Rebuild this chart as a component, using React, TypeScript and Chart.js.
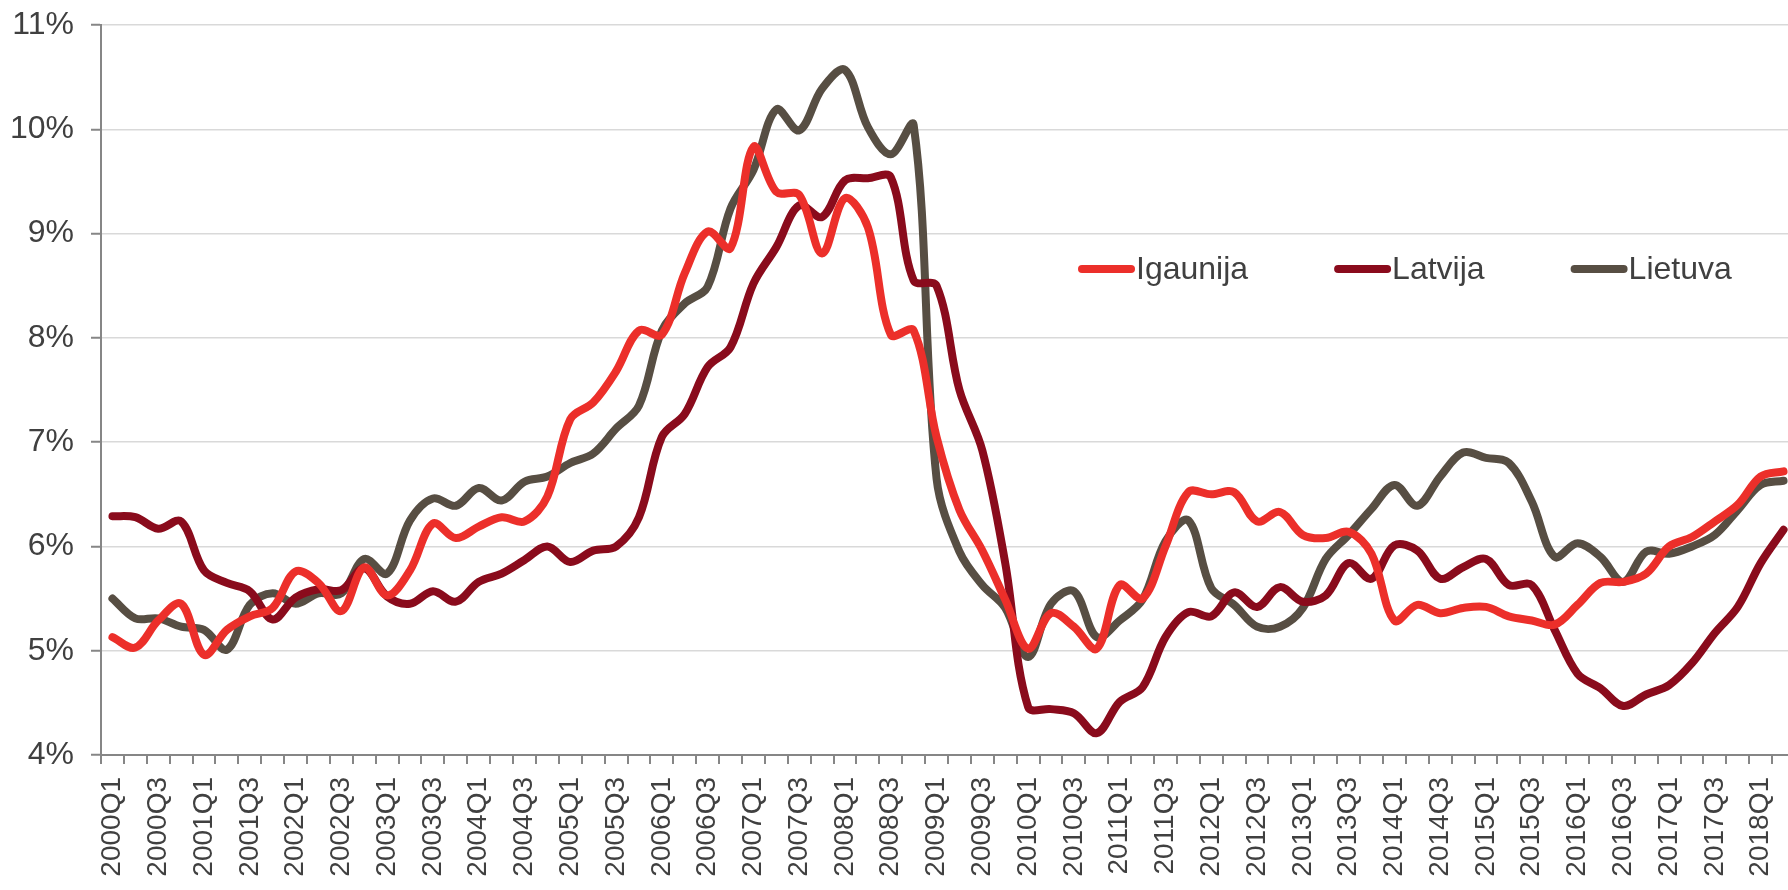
import React, { useEffect, useRef } from "react";
import { Chart, registerables } from "chart.js";

Chart.register(...registerables);

const quarters: string[] = [
  "2000Q1","2000Q2","2000Q3","2000Q4","2001Q1","2001Q2","2001Q3","2001Q4",
  "2002Q1","2002Q2","2002Q3","2002Q4","2003Q1","2003Q2","2003Q3","2003Q4",
  "2004Q1","2004Q2","2004Q3","2004Q4","2005Q1","2005Q2","2005Q3","2005Q4",
  "2006Q1","2006Q2","2006Q3","2006Q4","2007Q1","2007Q2","2007Q3","2007Q4",
  "2008Q1","2008Q2","2008Q3","2008Q4","2009Q1","2009Q2","2009Q3","2009Q4",
  "2010Q1","2010Q2","2010Q3","2010Q4","2011Q1","2011Q2","2011Q3","2011Q4",
  "2012Q1","2012Q2","2012Q3","2012Q4","2013Q1","2013Q2","2013Q3","2013Q4",
  "2014Q1","2014Q2","2014Q3","2014Q4","2015Q1","2015Q2","2015Q3","2015Q4",
  "2016Q1","2016Q2","2016Q3","2016Q4","2017Q1","2017Q2","2017Q3","2017Q4",
  "2018Q1","2018Q2",
];

const igaunija: number[] = [
  5.13, 5.03, 5.29, 5.45, 4.96, 5.2, 5.33, 5.41, 5.76, 5.65,
  5.38, 5.8, 5.53, 5.77, 6.22, 6.08, 6.19, 6.28, 6.24, 6.48,
  7.22, 7.38, 7.68, 8.07, 8.03, 8.62, 9.02, 8.86, 9.83, 9.4,
  9.37, 8.81, 9.34, 9.06, 8.03, 8.07, 7.05, 6.35, 5.96, 5.49,
  5.02, 5.36, 5.23, 5.02, 5.63, 5.5, 6.0, 6.52, 6.5, 6.52,
  6.24, 6.33, 6.11, 6.08, 6.14, 5.93, 5.29, 5.44, 5.36, 5.41,
  5.42, 5.33, 5.29, 5.25, 5.44, 5.65, 5.66, 5.74, 6.0, 6.09,
  6.24, 6.4, 6.67, 6.72,
];

const latvija: number[] = [
  6.29, 6.28, 6.17, 6.24, 5.77, 5.65, 5.57, 5.3, 5.51, 5.59,
  5.58, 5.79, 5.52, 5.45, 5.57, 5.47, 5.66, 5.74, 5.87, 6.0,
  5.85, 5.96, 6.0, 6.28, 7.05, 7.27, 7.72, 7.91, 8.52, 8.87,
  9.27, 9.16, 9.51, 9.53, 9.54, 8.55, 8.5, 7.5, 6.92, 5.84,
  4.46, 4.44, 4.4, 4.21, 4.51, 4.65, 5.13, 5.37, 5.33, 5.56,
  5.42, 5.61, 5.47, 5.53, 5.84, 5.69, 6.01, 5.96, 5.69, 5.8,
  5.88, 5.63, 5.63, 5.2, 4.78, 4.64, 4.47, 4.58, 4.67, 4.88,
  5.17, 5.42, 5.84, 6.16,
];

const lietuva: number[] = [
  5.5, 5.31, 5.31, 5.23, 5.2, 5.01, 5.44, 5.55, 5.45, 5.55,
  5.55, 5.88, 5.74, 6.25, 6.46, 6.39, 6.56, 6.44, 6.62, 6.67,
  6.8, 6.89, 7.13, 7.35, 8.07, 8.33, 8.49, 9.24, 9.61, 10.19,
  9.99, 10.39, 10.57, 10.02, 9.76, 10.04, 6.65, 5.95, 5.63, 5.41,
  4.94, 5.45, 5.57, 5.13, 5.29, 5.49, 6.05, 6.25, 5.6, 5.44,
  5.23, 5.23, 5.41, 5.88, 6.11, 6.36, 6.59, 6.39, 6.67, 6.9,
  6.85, 6.8, 6.43, 5.9, 6.03, 5.9, 5.66, 5.95, 5.93, 6.0,
  6.11, 6.35, 6.59, 6.63,
];

const seriesNames: string[] = ["Igaunija", "Latvija", "Lietuva"];
const seriesColors: string[] = ["#ec2f2a", "#8a0b1c", "#574e43"];

const yMin = 4;
const yMax = 11;
const FONT = "'Liberation Sans', Arial, Helvetica, sans-serif";
const TEXT = "#404040";
const AXIS = "#868686";

const inlineLegend = {
  id: "inlineLegend",
  afterDraw(chart: any) {
    const ctx = chart.ctx as CanvasRenderingContext2D;
    ctx.save();
    ctx.font = `32px ${FONT}`;
    ctx.textBaseline = "alphabetic";
    ctx.textAlign = "left";
    let x = 1078;
    const yLine = 269;
    const yText = 279;
    const lineLen = 57;
    chart.data.datasets.forEach((ds: any) => {
      ctx.strokeStyle = ds.borderColor;
      ctx.lineWidth = 8;
      ctx.lineCap = "round";
      ctx.beginPath();
      ctx.moveTo(x + 4, yLine);
      ctx.lineTo(x + lineLen - 4, yLine);
      ctx.stroke();
      ctx.fillStyle = TEXT;
      const tx = x + lineLen + 1;
      ctx.fillText(ds.label, tx, yText);
      x = tx + ctx.measureText(ds.label).width + 86;
    });
    ctx.restore();
  },
};

export default function App() {
  const ref = useRef<HTMLCanvasElement | null>(null);

  useEffect(() => {
    const canvas = ref.current;
    if (!canvas) return;
    Chart.defaults.font.family = FONT;
    const seriesData = [igaunija, latvija, lietuva];
    const chart = new Chart(canvas, {
      type: "line",
      data: {
        labels: quarters,
        datasets: seriesNames.map((name, i) => ({
          label: name,
          data: seriesData[i],
          borderColor: seriesColors[i],
          backgroundColor: seriesColors[i],
          borderWidth: 8,
          pointRadius: 0,
          pointHoverRadius: 0,
          tension: 0.35,
          fill: false,
          borderCapStyle: "round",
          borderJoinStyle: "round",
        })),
      },
      options: {
        responsive: false,
        animation: false,
        devicePixelRatio: 1,
        layout: { padding: { top: 25, right: 5, left: 0, bottom: 0 } },
        plugins: {
          legend: { display: false },
          tooltip: { enabled: false },
        },
        scales: {
          x: {
            type: "category",
            offset: true,
            grid: {
              display: true,
              offset: true,
              drawOnChartArea: false,
              drawTicks: true,
              tickLength: 9,
              color: AXIS,
              lineWidth: 2,
            },
            border: { display: true, color: AXIS, width: 2 },
            ticks: {
              autoSkip: false,
              minRotation: 90,
              maxRotation: 90,
              padding: 13,
              color: TEXT,
              font: { size: 28, family: FONT },
              callback: (_v: any, index: number) =>
                index % 2 === 0 ? quarters[index] : "",
            },
            afterFit: (scale: any) => {
              scale.height = 135;
              scale.paddingLeft = 0;
              scale.paddingRight = 0;
              scale.paddingTop = 0;
              scale.paddingBottom = 0;
            },
          },
          y: {
            min: yMin,
            max: yMax,
            grid: {
              color: "#d9d9d9",
              lineWidth: 1.5,
              tickColor: AXIS,
              tickWidth: 2,
              tickLength: 10,
              drawTicks: true,
            },
            border: { display: true, color: AXIS, width: 2 },
            ticks: {
              stepSize: 1,
              padding: 17,
              color: TEXT,
              font: { size: 32, family: FONT },
              callback: (v: any) => `${v}%`,
            },
            afterFit: (scale: any) => {
              scale.width = 101;
              scale.paddingLeft = 0;
              scale.paddingRight = 0;
              scale.paddingTop = 0;
              scale.paddingBottom = 0;
            },
          },
        },
      },
      plugins: [inlineLegend],
    } as any);
    return () => chart.destroy();
  }, []);

  return (
    <div
      style={{
        position: "fixed",
        left: 0,
        top: 0,
        width: 1788,
        height: 890,
        overflow: "hidden",
        background: "#ffffff",
      }}
    >
      <canvas
        ref={ref}
        width={1800}
        height={890}
        style={{ display: "block", width: 1800, height: 890 }}
      />
    </div>
  );
}
